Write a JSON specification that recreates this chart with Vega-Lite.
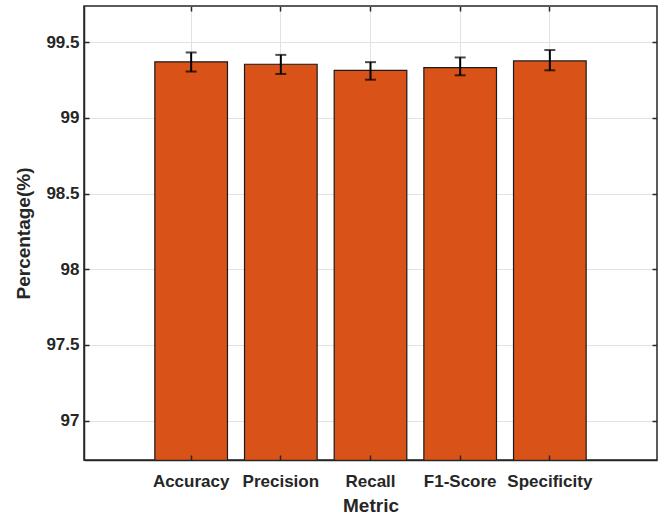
{
  "$schema": "https://vega.github.io/schema/vega-lite/v6.json",
  "width": 573,
  "height": 454,
  "autosize": {"type": "none"},
  "padding": {"left": 84, "top": 6, "right": 5, "bottom": 58},
  "background": "white",
  "config": {
    "view": {"stroke": "#262626", "strokeWidth": 1.5},
    "font": "Liberation Sans",
    "axis": {
      "domainColor": "#262626",
      "domainWidth": 1.5,
      "tickColor": "#262626",
      "tickWidth": 1.5,
      "tickSize": -5,
      "gridColor": "#e2e2e2",
      "gridWidth": 1,
      "labelColor": "#262626",
      "titleColor": "#262626",
      "labelFontSize": 17,
      "labelFontWeight": "bold",
      "titleFontSize": 19,
      "titleFontWeight": "bold"
    }
  },
  "data": {
    "values": [
      {"metric": "Accuracy", "value": 99.371, "lo": 99.307, "hi": 99.433},
      {"metric": "Precision", "value": 99.355, "lo": 99.291, "hi": 99.417},
      {"metric": "Recall", "value": 99.315, "lo": 99.253, "hi": 99.369},
      {"metric": "F1-Score", "value": 99.333, "lo": 99.282, "hi": 99.4},
      {"metric": "Specificity", "value": 99.377, "lo": 99.315, "hi": 99.449}
    ]
  },
  "resolve": {"axis": {"x": "independent", "y": "independent"}},
  "layer": [
    {
      "mark": {"type": "bar", "fill": "#D95319", "stroke": "#1a1a1a", "strokeWidth": 1.2, "clip": true},
      "encoding": {
        "x": {
          "field": "metric",
          "type": "nominal",
          "sort": null,
          "scale": {"paddingInner": 0.19, "paddingOuter": 0.79},
          "axis": {
            "orient": "bottom",
            "title": "Metric",
            "labelAngle": 0,
            "grid": false,
            "zindex": 1,
            "bandPosition": 0.5,
            "labelPadding": 18,
            "titlePadding": 7
          }
        },
        "y": {
          "field": "value",
          "type": "quantitative",
          "scale": {"domain": [96.74, 99.74], "zero": false, "nice": false},
          "axis": {
            "orient": "left",
            "title": "Percentage(%)",
            "values": [97, 97.5, 98, 98.5, 99, 99.5],
            "format": ".1~f",
            "grid": false,
            "zindex": 1,
            "labelPadding": 10,
            "titlePadding": 12
          }
        }
      }
    },
    {
      "mark": {"type": "rule", "color": "black", "strokeWidth": 2},
      "encoding": {
        "x": {"field": "metric", "type": "nominal", "sort": null, "axis": null},
        "y": {"field": "lo", "type": "quantitative", "axis": null},
        "y2": {"field": "hi"}
      }
    },
    {
      "mark": {"type": "tick", "color": "black", "thickness": 2, "size": 11},
      "encoding": {
        "x": {"field": "metric", "type": "nominal", "sort": null, "axis": null},
        "y": {"field": "lo", "type": "quantitative", "axis": null}
      }
    },
    {
      "mark": {"type": "tick", "color": "black", "thickness": 2, "size": 11},
      "encoding": {
        "x": {
          "field": "metric",
          "type": "nominal",
          "sort": null,
          "axis": {
            "orient": "top",
            "title": null,
            "labels": false,
            "domain": false,
            "grid": true,
            "zindex": 0,
            "bandPosition": 0.5
          }
        },
        "y": {
          "field": "hi",
          "type": "quantitative",
          "axis": {
            "orient": "right",
            "title": null,
            "labels": false,
            "domain": false,
            "grid": true,
            "zindex": 0,
            "values": [97, 97.5, 98, 98.5, 99, 99.5]
          }
        }
      }
    }
  ]
}
